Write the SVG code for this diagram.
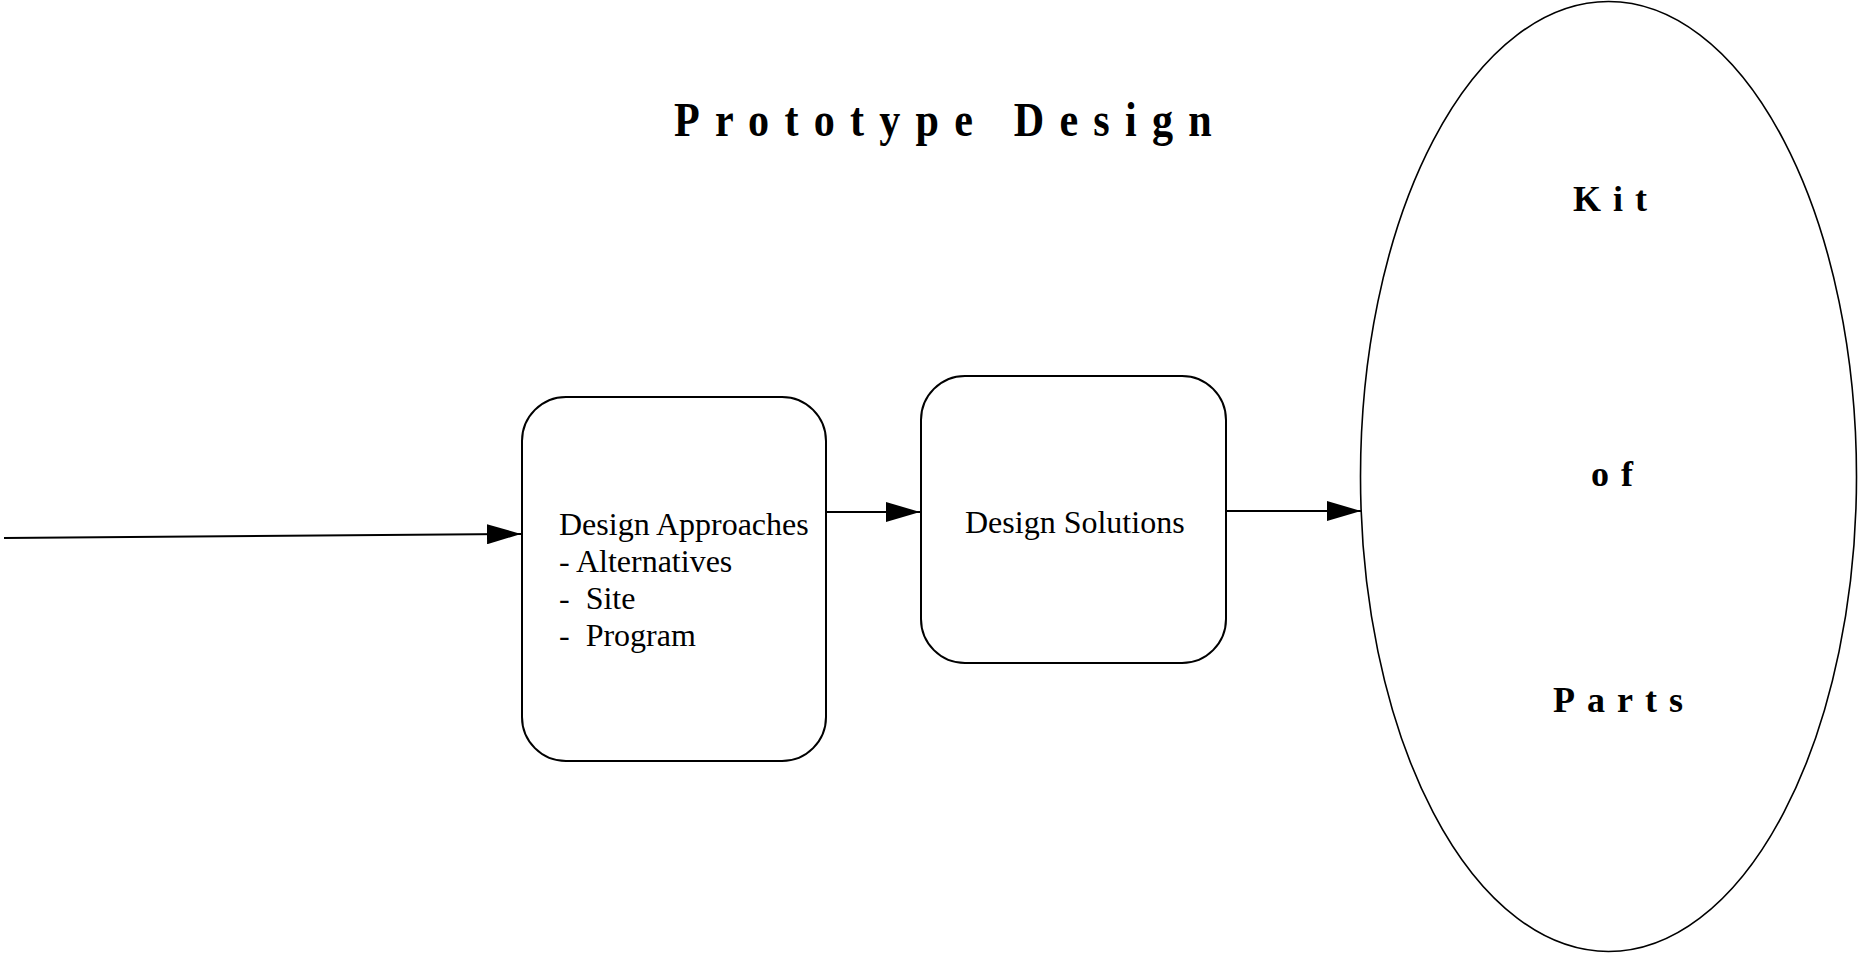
<svg xmlns="http://www.w3.org/2000/svg" width="1859" height="955" viewBox="0 0 1859 955">
  <style>
    .box { fill: #ffffff; stroke: #000000; stroke-width: 2; }
    .oval { fill: #ffffff; stroke: #000000; stroke-width: 1.6; }
    .edge { fill: none; stroke: #000000; stroke-width: 2; }
    .label { font-family: "Liberation Serif", "Times New Roman", serif; font-size: 32px; fill: #000000; }
    .title { font-family: "Liberation Serif", "Times New Roman", serif; font-size: 49px; font-weight: bold; fill: #000000; letter-spacing: 17.7px; }
    .kit { font-family: "Liberation Serif", "Times New Roman", serif; font-size: 36px; font-weight: bold; fill: #000000; letter-spacing: 12px; }
  </style>
  <defs>
    <marker id="arrow" viewBox="0 0 34 20" refX="34" refY="10" markerWidth="34" markerHeight="20" markerUnits="userSpaceOnUse" orient="auto">
      <path d="M0,0 L34,10 L0,20 Z" fill="#000000"/>
    </marker>
  </defs>

  <rect width="1859" height="955" fill="#ffffff"/>

  <!-- heading -->
  <g id="title">
    <text class="title" transform="translate(674,136) scale(0.86,1)">Prototype Design</text>
  </g>

  <!-- connectors -->
  <g id="connectors">
    <line class="edge" x1="4" y1="538" x2="521" y2="534" marker-end="url(#arrow)"/>
    <line class="edge" x1="826" y1="512" x2="920" y2="512" marker-end="url(#arrow)"/>
    <line class="edge" x1="1227" y1="511" x2="1361" y2="511" marker-end="url(#arrow)"/>
  </g>

  <!-- first step -->
  <g id="design-approaches">
    <rect class="box" x="522" y="397" width="304" height="364" rx="44" ry="44"/>
    <text class="label" x="559" y="535">Design Approaches</text>
    <text class="label" x="559" y="572">- Alternatives</text>
    <text class="label" x="559" y="609" xml:space="preserve">-  Site</text>
    <text class="label" x="559" y="646" xml:space="preserve">-  Program</text>
  </g>

  <!-- second step -->
  <g id="design-solutions">
    <rect class="box" x="921" y="376" width="305" height="287" rx="44" ry="44"/>
    <text class="label" x="965" y="533">Design Solutions</text>
  </g>

  <!-- result -->
  <g id="kit-of-parts">
    <ellipse class="oval" cx="1608.5" cy="476.5" rx="248" ry="475"/>
    <text class="kit" x="1573" y="211">Kit</text>
    <text class="kit" x="1591" y="486">of</text>
    <text class="kit" x="1553" y="712" letter-spacing="11">Parts</text>
  </g>
</svg>
